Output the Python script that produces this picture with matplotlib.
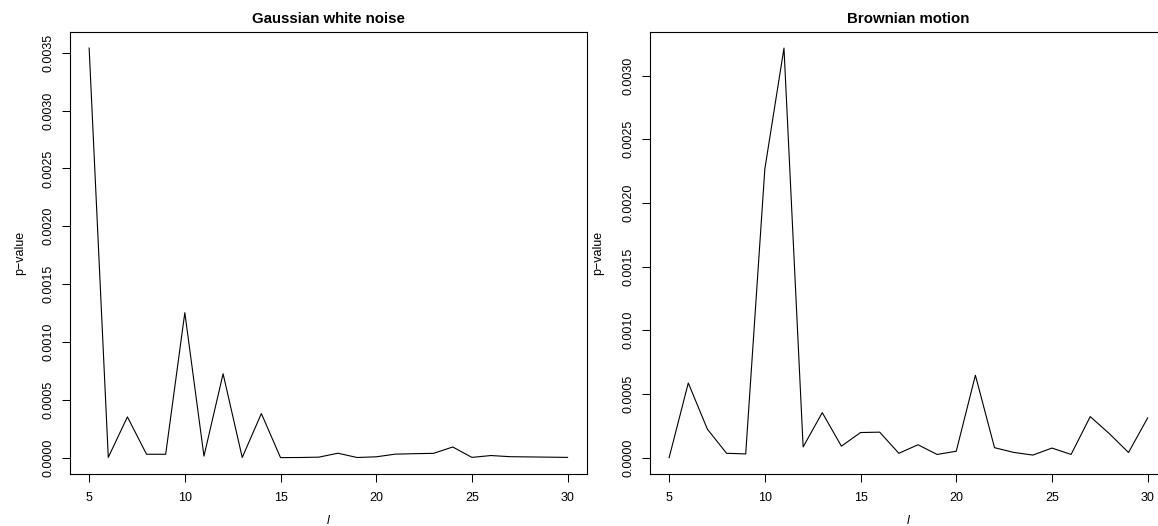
import matplotlib
matplotlib.use("Agg")
import matplotlib.pyplot as plt
from matplotlib.ticker import FixedLocator, FormatStrFormatter

plt.rcParams["font.family"] = ["Liberation Sans", "DejaVu Sans"]

# Block length l and the p-values obtained for each series
lags = list(range(5, 31))

white_noise_p = [
    0.003540, 0.000002, 0.000352, 0.000029, 0.000029, 0.001253,
    0.000013, 0.000725, 0.000001, 0.000381, 0.000000, 0.000001,
    0.000004, 0.000038, 0.000001, 0.000007, 0.000030, 0.000034,
    0.000037, 0.000092, 0.000002, 0.000018, 0.000008, 0.000006,
    0.000004, 0.000002,
]

brownian_p = [
    0.000000, 0.000586, 0.000223, 0.000034, 0.000029, 0.002267,
    0.003216, 0.000084, 0.000353, 0.000090, 0.000197, 0.000200,
    0.000034, 0.000101, 0.000025, 0.000050, 0.000647, 0.000078,
    0.000041, 0.000020, 0.000075, 0.000025, 0.000322, 0.000188,
    0.000040, 0.000312,
]

titles = ["Gaussian white noise", "Brownian motion"]
x_ticks = [5, 10, 15, 20, 25, 30]
y_ticks_left = [0.0, 0.0005, 0.0010, 0.0015, 0.0020, 0.0025, 0.0030, 0.0035]
y_ticks_right = [0.0, 0.0005, 0.0010, 0.0015, 0.0020, 0.0025, 0.0030]

W, H = 1158, 526
fig = plt.figure(figsize=(W / 100, H / 100), dpi=100)
fig.patch.set_facecolor("white")


def px_rect(left, top, right, bottom):
    return [left / W, 1 - bottom / H, (right - left) / W, (bottom - top) / H]


panels = [
    (px_rect(70, 31.7, 586.7, 474), white_noise_p, y_ticks_left, titles[0], 20),
    (px_rect(650, 31.7, 1166.8, 474), brownian_p, y_ticks_right, titles[1], 598),
]

for rect, values, yticks, title, ylab_x in panels:
    ax = fig.add_axes(rect)
    ax.plot(lags, values, color="black", lw=0.8)
    ax.margins(x=0.04, y=0.04)
    ax.xaxis.set_major_locator(FixedLocator(x_ticks))
    ax.yaxis.set_major_locator(FixedLocator(yticks))
    ax.yaxis.set_major_formatter(FormatStrFormatter("%.4f"))
    ax.tick_params(direction="out", length=5.8, width=0.75, color="black",
                   labelsize=9, pad=5)
    ax.tick_params(axis="x", pad=7)
    ax.tick_params(axis="y", labelrotation=90)
    for lab in ax.get_yticklabels():
        lab.set_verticalalignment("center")
    for sp in ax.spines.values():
        sp.set_linewidth(0.8)
        sp.set_color("black")
    ax.set_title(title, fontsize=10.8, fontweight="bold", pad=6.5)

    cx = (rect[0] + rect[2] / 2)
    fig.text(ylab_x / W, 1 - 253 / H, "p\u2212value", rotation=90,
             ha="center", va="center", fontsize=9)
    fig.text(cx, 1 - 524.5 / H, "l", style="italic", ha="center",
             va="baseline", fontsize=9)

fig.savefig("out.png", dpi=100)
